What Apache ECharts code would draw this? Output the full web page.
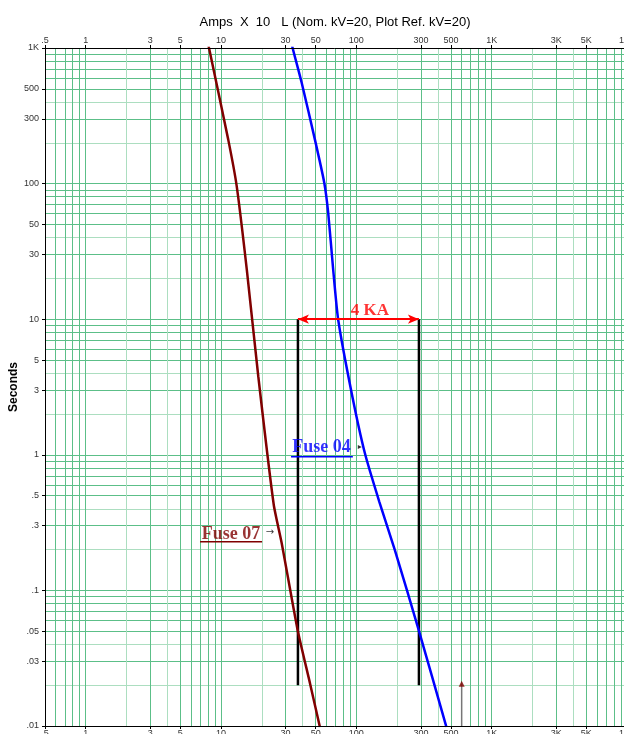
<!DOCTYPE html>
<html><head><meta charset="utf-8">
<script src="https://cdn.jsdelivr.net/npm/echarts@6/dist/echarts.min.js"></script>
<style>html,body{margin:0;padding:0;background:#fff;overflow:hidden}#c{width:624px;height:734px}</style>
</head><body><div id="c"></div>
<script>
// ---- tick labels ----
const xTickValues = [0.5, 1, 3, 5, 10, 30, 50, 100, 300, 500, 1000, 3000, 5000, 10000];
const xTickLabels = ['.5', '1', '3', '5', '10', '30', '50', '100', '300', '500', '1K', '3K', '5K', '10K'];
const yTickValues = [0.01, 0.03, 0.05, 0.1, 0.3, 0.5, 1, 3, 5, 10, 30, 50, 100, 300, 500, 1000];
const yTickLabels = ['.01', '.03', '.05', '.1', '.3', '.5', '1', '3', '5', '10', '30', '50', '100', '300', '500', '1K'];

// ---- grid decades / multiples ----
const gridDecades = [0.01, 0.1, 1, 10, 100, 1000, 10000];
const mediumMultiples = [1, 3, 5, 6, 7, 8, 9];
const lightMultiples = [2, 4];

// ---- curves (Amps x10, Seconds) ----
const fuse07Amps = [8.0, 8.15, 11.3, 13.06, 15.5, 18.85, 24.5, 28.05, 36.8, 45.4, 53.8];
const fuse07Sec  = [1100, 1000, 211, 95.5, 23.2, 3.78, 0.43, 0.224, 0.0511, 0.0207, 0.0098];
const fuse04Amps = [33.2, 33.8, 39.4, 49.4, 57.9, 61.9, 67.4, 73.4, 92.2, 115.5, 147.8, 192.3, 289, 463];
const fuse04Sec  = [1100, 1000, 556, 211, 101.6, 61.1, 23.2, 9.9, 2.87, 1.03, 0.45, 0.199, 0.051, 0.0098];

// ---- annotations ----
const spanAmps = [37, 290];       // vertical black lines
const spanSec = [0.02, 10];       // bottom / top of the vertical lines
const spanLabel = {text: '4 KA', amps: 126, sec: 11.5};
const fuse07Label = {text: 'Fuse 07', amps: 11.86, sec: 0.261, ulAmps: [7.0, 20.1], ulSec: 0.228, arrowAmps: 23.0, arrowSec: 0.27};
const fuse04Label = {text: 'Fuse 04', amps: 55.2, sec: 1.127, ulAmps: [32.9, 94.2], ulSec: 0.966, arrowAmps: 106, arrowSec: 1.14};
const markerAmps = 600;
const markerSec = [0.01, 0.0205];

function findLabel(vals, labels, v) {
  for (let i = 0; i < vals.length; i++) {
    if (Math.abs(Math.log10(v) - Math.log10(vals[i])) < 1e-4) return labels[i];
  }
  return '';
}
function zip(a, b) { return a.map((v, i) => [v, b[i]]); }

const xMin = 0.5, xMax = 10000, yMin = 0.01, yMax = 1000;
const MED = '#5cbf88', LIGHT = '#acdec0';
function gridVals(mults, min, max) {
  const vals = [];
  gridDecades.forEach(d => mults.forEach(m => {
    const v = d * m;
    if (v > min * 1.0001 && v < max * 0.9999) vals.push(v);
  }));
  return vals.sort((a, b) => a - b);
}

const labelFont = {fontFamily: 'Liberation Sans, Arial', fontSize: 9, color: '#333'};

function labelAxis(dim, pos, vals, labels, min, max) {
  return {
    type: 'log', logBase: 10, min, max, position: pos, z: 5,
    axisLine: {show: true, lineStyle: {color: '#000', width: 1}},
    axisTick: {show: true, length: 3, customValues: vals, lineStyle: {color: '#000'}},
    axisLabel: Object.assign({show: true, margin: dim === 'x' ? 3 : 6, customValues: vals,
      formatter: v => findLabel(vals, labels, v)}, labelFont),
    splitLine: {show: false}, minorTick: {show: false}, minorSplitLine: {show: false}
  };
}
function gridAxis(pos, vals, color, min, max) {
  return {
    type: 'log', logBase: 10, min, max, position: pos, z: 0,
    axisLine: {show: false}, axisLabel: {show: false},
    axisTick: {show: false, customValues: vals},
    splitLine: {show: true, lineStyle: {color, width: 1, type: 'solid'}},
    minorTick: {show: false}, minorSplitLine: {show: false}
  };
}

const yLabelAxis = labelAxis('y', 'left', yTickValues, yTickLabels, yMin, yMax);
Object.assign(yLabelAxis, {
  name: 'Seconds', nameLocation: 'middle', nameGap: 25, nameMoveOverlap: false,
  nameTextStyle: {fontFamily: 'Liberation Sans, Arial', fontSize: 12, fontWeight: 'bold', color: '#000'}
});

const option = {
  animation: false,
  backgroundColor: '#fff',
  title: {
    text: 'Amps  X  10   L (Nom. kV=20, Plot Ref. kV=20)',
    left: 330, top: 11, textAlign: 'center',
    textStyle: {fontFamily: 'Liberation Sans, Arial', fontSize: 13, fontWeight: 'normal', color: '#000'}
  },
  grid: {left: 45, top: 48, width: 582, height: 678, containLabel: false, outerBoundsMode: 'none'},
  xAxis: [
    labelAxis('x', 'bottom', xTickValues, xTickLabels, xMin, xMax),
    labelAxis('x', 'top', xTickValues, xTickLabels, xMin, xMax),
    gridAxis('bottom', gridVals(lightMultiples, xMin, xMax), LIGHT, xMin, xMax),
    gridAxis('bottom', gridVals(mediumMultiples, xMin, xMax), MED, xMin, xMax)
  ],
  yAxis: [
    yLabelAxis,
    gridAxis('left', gridVals(lightMultiples, yMin, yMax), LIGHT, yMin, yMax),
    gridAxis('left', gridVals(mediumMultiples, yMin, yMax), MED, yMin, yMax)
  ],
  series: [
    {
      name: 'Fuse 07', type: 'line', data: zip(fuse07Amps, fuse07Sec), z: 4,
      symbol: 'none', smooth: 0.2, lineStyle: {color: '#800000', width: 2.5}
    },
    {
      name: 'Fuse 04', type: 'line', data: zip(fuse04Amps, fuse04Sec), z: 4,
      symbol: 'none', smooth: 0.2, lineStyle: {color: '#0000ff', width: 2.5}
    },
    {
      type: 'line', data: [[spanAmps[0], spanSec[0]], [spanAmps[0], spanSec[1]]], z: 3,
      symbol: 'none', lineStyle: {color: '#000', width: 2.5}
    },
    {
      type: 'line', data: [[spanAmps[1], spanSec[0]], [spanAmps[1], spanSec[1]]], z: 3,
      symbol: 'none', lineStyle: {color: '#000', width: 2.5},
      markLine: {
        silent: true, symbol: ['arrow', 'arrow'], symbolSize: [7, 11], animation: false,
        lineStyle: {color: '#ff0000', width: 2, type: 'solid'},
        label: {show: false},
        data: [[{coord: [spanAmps[0], spanSec[1]]}, {coord: [spanAmps[1], spanSec[1]]}]]
      }
    },
    // marker at bottom
    {
      type: 'line', data: [[markerAmps, markerSec[0]], [markerAmps, markerSec[1]]], z: 3,
      symbol: 'none', lineStyle: {color: '#777', width: 1.5}
    },
    {
      type: 'scatter', data: [[markerAmps, markerSec[1]]], z: 5, symbol: 'triangle', symbolSize: [6, 6],
      itemStyle: {color: '#800000'}
    },
    // label underlines
    {
      type: 'line', data: [[fuse07Label.ulAmps[0], fuse07Label.ulSec], [fuse07Label.ulAmps[1], fuse07Label.ulSec]], z: 5,
      symbol: 'none', lineStyle: {color: '#800000', width: 1.5}
    },
    {
      type: 'line', data: [[fuse04Label.ulAmps[0], fuse04Label.ulSec], [fuse04Label.ulAmps[1], fuse04Label.ulSec]], z: 5,
      symbol: 'none', lineStyle: {color: '#0000ff', width: 1.5}
    },
    // label texts
    {
      type: 'scatter', z: 6, symbolSize: 1, itemStyle: {color: 'rgba(0,0,0,0)'},
      data: [
        {value: [fuse07Label.amps, fuse07Label.sec], label: {formatter: fuse07Label.text, color: '#800000', fontSize: 18}},
        {value: [fuse04Label.amps, fuse04Label.sec], label: {formatter: fuse04Label.text, color: '#0000ff', fontSize: 18}},
        {value: [spanLabel.amps, spanLabel.sec], label: {formatter: spanLabel.text, color: '#ff0000', fontSize: 17}}
      ],
      label: {show: true, position: 'inside', fontFamily: 'Liberation Serif, Times New Roman', fontWeight: 'bold'}
    },
    {
      type: 'scatter', z: 6, symbolSize: 1, itemStyle: {color: 'rgba(0,0,0,0)'},
      data: [[fuse07Label.arrowAmps, fuse07Label.arrowSec]],
      label: {show: true, position: 'inside', formatter: '\u2192', color: '#000', fontSize: 10, fontFamily: 'DejaVu Sans'}
    },
    {
      type: 'scatter', z: 6, symbol: 'triangle', symbolRotate: -90, symbolSize: [4, 4],
      data: [[fuse04Label.arrowAmps, fuse04Label.arrowSec]], itemStyle: {color: '#000'}
    }
  ]
};
const chart = echarts.init(document.getElementById('c'), null, {renderer: 'canvas'});
chart.setOption(option);
</script>
</body></html>
